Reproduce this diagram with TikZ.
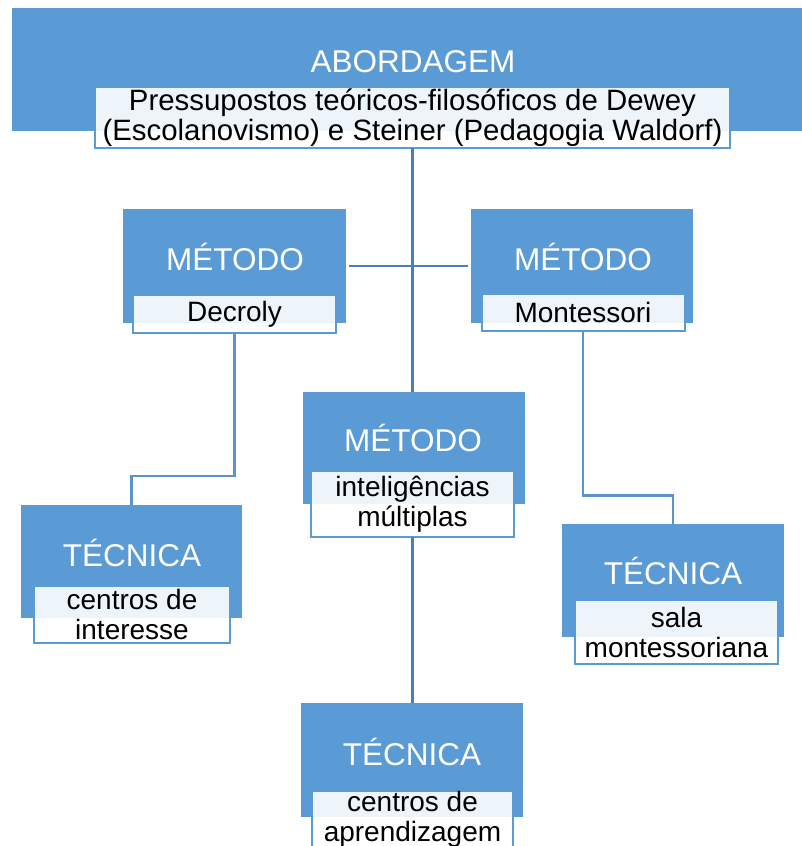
\documentclass[tikz,border=0pt]{standalone}
\usepackage{fontspec}
\setmainfont{Liberation Sans}
\definecolor{boxblue}{HTML}{5B9BD5}
\definecolor{linedark}{HTML}{4A7EBB}
\definecolor{linelight}{HTML}{5B93CF}
\tikzset{
  bluebox/.style={rectangle, fill=boxblue, inner sep=0pt, outer sep=0pt},
  titletext/.style={text=white, font=\fontsize{31.5}{34}\selectfont, inner sep=0pt},
  labelbox/.style={rectangle, draw=boxblue, line width=2pt, fill=white, fill opacity=0.9,
    text opacity=1, text=black, align=center, font=\fontsize{28}{30}\selectfont,
    inner sep=0pt, outer sep=0pt},
  mainline/.style={draw=linedark, line width=2.5pt},
  sideline/.style={draw=linelight, line width=2.5pt},
}
\begin{document}
\begin{tikzpicture}[x=1pt, y=-1pt]
\useasboundingbox (0,0) rectangle (802,846);
\clip (0,0) rectangle (802,846);
\fill[white] (0,0) rectangle (802,846);

% ABORDAGEM
\node[bluebox, minimum width=790pt, minimum height=123pt] (ab) at (407,69.5) {};
\node[titletext] (abt) at (413,62) {ABORDAGEM};
\node[labelbox, minimum width=635pt, minimum height=61pt, font=\fontsize{29.4}{30}\selectfont] (abl) at (412.5,117.5)
  {Pressupostos teóricos-filosóficos de Dewey\\(Escolanovismo) e Steiner (Pedagogia Waldorf)};

% MÉTODO Decroly
\node[bluebox, minimum width=223pt, minimum height=114pt] (m1) at (234.5,266) {};
\node[titletext] (m1t) at (235,257) {MÉTODO};
\node[labelbox, minimum width=203pt, minimum height=38pt] (m1l) at (234.5,314) {Decroly};

% MÉTODO Montessori
\node[bluebox, minimum width=222pt, minimum height=114pt] (m2) at (582,266) {};
\node[titletext] (m2t) at (583,257) {MÉTODO};
\node[labelbox, minimum width=203pt, minimum height=37pt] (m2l) at (583,312) {Montessori};

% MÉTODO inteligências múltiplas
\node[bluebox, minimum width=222pt, minimum height=112pt] (m3) at (414,448) {};
\node[titletext] (m3t) at (413,438) {MÉTODO};
\node[labelbox, minimum width=203pt, minimum height=66pt] (m3l) at (412.5,504) {inteligências\\múltiplas};

% TÉCNICA centros de interesse
\node[bluebox, minimum width=221pt, minimum height=113pt] (t1) at (131.5,561.5) {};
\node[titletext] (t1t) at (132,553) {TÉCNICA};
\node[labelbox, minimum width=196pt, minimum height=57pt] (t1l) at (132,614.5) {centros de\\interesse};

% TÉCNICA centros de aprendizagem
\node[bluebox, minimum width=222pt, minimum height=114pt] (t2) at (412,760) {};
\node[titletext] (t2t) at (412,752) {TÉCNICA};
\node[labelbox, minimum width=201pt, minimum height=57pt, anchor=north] (t2l) at (412.5,791) {centros de\\aprendizagem};

% TÉCNICA sala montessoriana
\node[bluebox, minimum width=222pt, minimum height=113pt] (t3) at (673,580.5) {};
\node[titletext] (t3t) at (673,571) {TÉCNICA};
\node[labelbox, minimum width=203pt, minimum height=64pt] (t3l) at (676.5,632) {sala\\montessoriana};

% connectors
\draw[mainline] (abl.south) -- (abl.south |- m3.north);
\draw[mainline] ([xshift=3pt]m1.east) -- ([xshift=-3pt]m2.west);
\draw[sideline] (m1l.south) -- ++(0,143) -| (t1.north);
\draw[sideline] (m2l.south) -- ++(0,165) -| (t3.north);
\draw[mainline] (m3l.south) -- (m3l.south |- t2.north);
\end{tikzpicture}
\end{document}
